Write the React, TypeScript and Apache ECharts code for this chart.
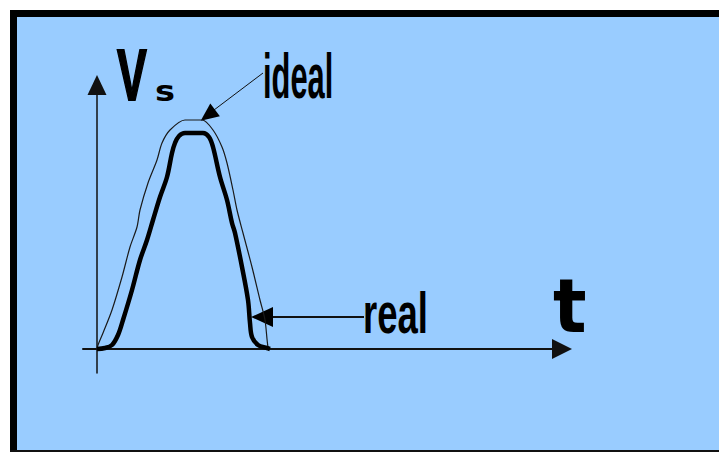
import React, { useEffect, useRef } from "react";
import * as echarts from "echarts";

// time samples and voltage values (arbitrary units)
const tReal = [0, 1.6, 3.0, 4.2, 5.2, 7.0, 8.6, 10.0, 11.2, 12.6, 14.0, 15.0, 15.6, 16.4, 17.6, 21.2, 22.4, 23.2, 24.6, 26.0, 27.0, 27.6, 29.0, 30.2, 30.6, 31.0, 32.2, 34.0, 34.6];
const vReal = [0, 0.2, 0.8, 2.8, 5.8, 11.8, 17.8, 21.8, 25.8, 30.4, 34.4, 39.2, 41.2, 42.6, 43.2, 43.2, 42.4, 40.4, 34.4, 29.8, 25.2, 23.2, 16.4, 9.8, 5.2, 2.4, 0.8, 0.2, 0];

const tIdeal = [0, 0.2, 1.2, 3.0, 5.0, 6.6, 8.0, 8.6, 10.2, 12.0, 13.0, 14.6, 17.6, 21.0, 23.2, 25.0, 26.0, 27.2, 28.0, 29.2, 31.0, 32.6, 33.6, 34.2, 34.6];
const vIdeal = [0, 0.8, 3.2, 7.8, 14.4, 20.4, 24.4, 27.8, 33.2, 37.8, 41.2, 43.8, 45.8, 45.8, 43.8, 40.4, 37.2, 31.8, 27.8, 23.2, 16.4, 9.8, 5.8, 0.4, 0];

const axisLabels = { y: "V", ySub: "s", x: "t" };
const seriesNames = ["ideal", "real"];

export default function App() {
  const ref = useRef<HTMLDivElement>(null);
  useEffect(() => {
    if (!ref.current) return;
    const chart = echarts.init(ref.current, undefined, { renderer: "svg" });
    const realData = tReal.map((t, i) => [t, vReal[i]]);
    const idealData = tIdeal.map((t, i) => [t, vIdeal[i]]);
    const bold = (size: number, family: string) => ({
      fontSize: size,
      fontFamily: family,
      fontWeight: "bold",
      fill: "#000",
      align: "left",
      verticalAlign: "middle",
    });
    chart.setOption({
      animation: false,
      backgroundColor: "#99ccff",
      grid: { left: 83, right: 157, top: 85, bottom: 79, containLabel: false },
      xAxis: {
        type: "value",
        min: -2.8,
        max: 93,
        axisLine: {
          show: true,
          onZero: true,
          symbol: ["none", "triangle"],
          symbolSize: [20, 20],
          lineStyle: { color: "#111", width: 2 },
        },
        axisTick: { show: false },
        axisLabel: { show: false },
        splitLine: { show: false },
      },
      yAxis: {
        type: "value",
        min: -4.8,
        max: 52.8,
        axisLine: {
          show: true,
          onZero: true,
          symbol: ["none", "triangle"],
          symbolSize: [19, 20],
          lineStyle: { color: "#111", width: 1.5 },
        },
        axisTick: { show: false },
        axisLabel: { show: false },
        splitLine: { show: false },
      },
      series: [
        {
          name: seriesNames[0],
          type: "line",
          data: idealData,
          showSymbol: false,
          smooth: 0.3,
          lineStyle: { color: "#1a1a1a", width: 1.2 },
          z: 3,
        },
        {
          name: seriesNames[1],
          type: "line",
          data: realData,
          showSymbol: false,
          smooth: 0.35,
          lineStyle: { color: "#000", width: 4.5 },
          z: 4,
        },
      ],
      graphic: [
        // frame
        { type: "rect", shape: { x: 0, y: 0, width: 719, height: 10 }, style: { fill: "#fff" } },
        { type: "rect", shape: { x: 0, y: 0, width: 10, height: 452 }, style: { fill: "#fff" } },
        { type: "rect", shape: { x: 10, y: 10, width: 709, height: 7 }, style: { fill: "#000" } },
        { type: "rect", shape: { x: 10, y: 10, width: 7, height: 442 }, style: { fill: "#000" } },
        { type: "rect", shape: { x: 10, y: 450, width: 709, height: 2 }, style: { fill: "#111" } },
        // axis names
        { type: "text", x: 117, y: 75, scaleX: 0.62, style: { text: axisLabels.y, ...bold(72, "Liberation Sans"), stroke: "#000", lineWidth: 2 } },
        { type: "text", x: 155, y: 91, scaleX: 1.2, style: { text: axisLabels.ySub, ...bold(28, "DejaVu Sans") } },
        { type: "text", x: 553, y: 306, scaleX: 0.95, style: { text: axisLabels.x, ...bold(74, "DejaVu Sans") } },
        // ideal annotation
        { type: "line", shape: { x1: 263, y1: 73, x2: 214, y2: 110 }, style: { stroke: "#111", lineWidth: 1 } },
        { type: "polygon", shape: { points: [[200.7, 120.7], [219.9, 116.3], [210.3, 103.5]] }, style: { fill: "#000" } },
        { type: "text", x: 263, y: 76, scaleX: 0.49, style: { text: seriesNames[0], ...bold(63, "Liberation Sans") } },
        // real annotation
        { type: "line", shape: { x1: 272, y1: 317, x2: 364, y2: 317 }, style: { stroke: "#111", lineWidth: 2 } },
        { type: "polygon", shape: { points: [[251, 317], [273, 307], [273, 327]] }, style: { fill: "#000" } },
        { type: "text", x: 363, y: 313, scaleX: 0.64, style: { text: seriesNames[1], ...bold(57, "Liberation Sans") } },
      ],
    });
    return () => chart.dispose();
  }, []);
  return (
    <div
      ref={ref}
      style={{ position: "absolute", left: 0, top: 0, width: 719, height: 452 }}
    />
  );
}
